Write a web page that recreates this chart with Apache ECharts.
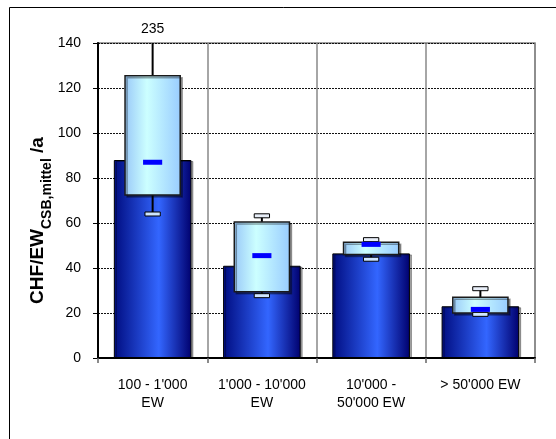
<!DOCTYPE html>
<html>
<head>
<meta charset="utf-8">
<script src="https://cdn.jsdelivr.net/npm/echarts@6/dist/echarts.min.js"></script>
<style>
html,body{margin:0;padding:0;background:#fff;}
#chart{width:556px;height:439px;}
</style>
</head>
<body>
<div id="chart"></div>
<script>
// ---- data ----
var categories = ["100 - 1'000\nEW", "1'000 - 10'000\nEW", "10'000 -\n50'000 EW", "> 50'000 EW"];
var barValues = [88, 41, 46.5, 23];
var boxLow = [72.5, 29.5, 46, 20];
var boxHigh = [125.5, 60.5, 51.5, 27];
var whiskerLow = [64, 27.7, 43.9, 19.4];
var whiskerHigh = [235, 63.2, 52.6, 30.8];
var meanValues = [87, 45.5, 50.5, 21.6];
var yTicks = [0, 20, 40, 60, 80, 100, 120, 140];

var Y_MIN = yTicks[0], Y_MAX = yTicks[yTicks.length - 1], Y_STEP = yTicks[1] - yTicks[0];
var FONT = "'Liberation Sans', Arial, sans-serif";

var boxData = categories.map(function (c, i) {
  return [i, boxLow[i], boxHigh[i], whiskerLow[i], whiskerHigh[i], meanValues[i]];
});

var chart = echarts.init(document.getElementById('chart'), null, {renderer: 'canvas'});

function renderBox(params, api) {
  var i = api.value(0);
  var x = api.coord([i, 0])[0];
  var band = api.size([1, 0])[0];
  var bw = band * 0.505, cw = band * 0.14, mw = band * 0.175;
  var lo = api.value(1), hi = api.value(2), wl = api.value(3), wh = api.value(4), mean = api.value(5);
  var clipped = wh > Y_MAX;
  var yTop = api.coord([i, hi])[1];
  var yBot = api.coord([i, lo])[1];
  var yHi = api.coord([i, Math.min(wh, Y_MAX)])[1];
  var yLo = api.coord([i, wl])[1];
  var yMean = api.coord([i, mean])[1];
  var children = [];
  children.push({type: 'line', shape: {x1: x, y1: yTop, x2: x, y2: yHi}, style: {stroke: '#000', lineWidth: 2}});
  children.push({type: 'line', shape: {x1: x, y1: yBot, x2: x, y2: yLo}, style: {stroke: '#000', lineWidth: 2}});
  children.push({
    type: 'rect',
    shape: {x: x - bw / 2, y: yTop, width: bw, height: yBot - yTop},
    style: {
      fill: new echarts.graphic.LinearGradient(0, 0, 1, 0, [
        {offset: 0, color: '#99c8f8'},
        {offset: 0.4, color: '#ccffff'},
        {offset: 1, color: '#99ccff'}
      ]),
      stroke: '#1a1a1a', lineWidth: 1.5,
      shadowColor: 'rgba(0,0,0,0.35)', shadowOffsetX: 2, shadowOffsetY: 2
    }
  });
  if (!clipped) {
    children.push({type: 'rect', shape: {x: x - cw / 2, y: yHi - 2, width: cw, height: 4},
      style: {fill: '#e8eef8', stroke: '#000', lineWidth: 1}});
  }
  children.push({type: 'rect', shape: {x: x - cw / 2, y: yLo - 2, width: cw, height: 4},
    style: {fill: '#cfe6ff', stroke: '#000', lineWidth: 1}});
  children.push({type: 'rect', shape: {x: x - mw / 2, y: yMean - 2.5, width: mw, height: 5},
    style: {fill: '#0000ff'}});
  if (clipped) {
    children.push({type: 'text', style: {x: x, y: yHi - 7, text: String(wh), textAlign: 'center',
      textVerticalAlign: 'bottom', font: '14px ' + FONT, fill: '#000'}});
  }
  return {type: 'group', children: children};
}

var option = {
  animation: false,
  backgroundColor: '#fff',
  textStyle: {fontFamily: FONT},
  grid: {left: 98, right: 21, top: 43, bottom: 81, show: true, borderColor: '#808080', borderWidth: 1.5},
  xAxis: {
    type: 'category',
    data: categories,
    axisLine: {lineStyle: {color: '#000', width: 2}},
    axisTick: {show: true, length: 5, lineStyle: {color: '#666', width: 1.5}},
    splitLine: {show: true, lineStyle: {color: '#888', width: 1.5}},
    axisLabel: {color: '#000', fontSize: 14, fontFamily: FONT, margin: 18, lineHeight: 18, interval: 0}
  },
  yAxis: {
    type: 'value',
    min: Y_MIN, max: Y_MAX, interval: Y_STEP,
    axisLine: {show: true, lineStyle: {color: '#000', width: 2}},
    axisTick: {show: true, length: 5, lineStyle: {color: '#000', width: 1}},
    axisLabel: {color: '#000', fontSize: 14, fontFamily: FONT, margin: 17},
    splitLine: {show: true, lineStyle: {color: '#111', width: 1, type: [2, 1]}},
    name: '{a|CHF/EW}{b|CSB,mittel}{c| /a}',
    nameLocation: 'middle',
    nameRotate: 90,
    nameGap: 44,
    nameMoveOverlap: false,
    nameTextStyle: {
      padding: [0, 40, 0, 0],
      rich: {
        a: {fontSize: 19, fontWeight: 'bold', fontFamily: FONT, color: '#000', verticalAlign: 'bottom', padding: [0, 0, 7, 0]},
        b: {fontSize: 14, fontWeight: 'bold', fontFamily: FONT, color: '#000', verticalAlign: 'bottom'},
        c: {fontSize: 19, fontWeight: 'bold', fontFamily: FONT, color: '#000', verticalAlign: 'bottom', padding: [0, 0, 7, 0]}
      }
    }
  },
  graphic: [{
    type: 'rect', left: 7, top: 5, z: 100, silent: true,
    shape: {width: 620, height: 520},
    style: {fill: 'none', stroke: '#000', lineWidth: 1}
  }],
  series: [
    {
      type: 'bar',
      data: barValues,
      barWidth: '71%',
      z: 2,
      itemStyle: {
        color: new echarts.graphic.LinearGradient(0, 0, 1, 0, [
          {offset: 0, color: '#000c80'},
          {offset: 0.58, color: '#3366ff'},
          {offset: 1, color: '#00006e'}
        ]),
        borderColor: '#000', borderWidth: 1,
        shadowColor: 'rgba(0,0,0,0.35)', shadowOffsetX: 2, shadowOffsetY: 1
      }
    },
    {
      type: 'custom',
      z: 3,
      clip: false,
      renderItem: renderBox,
      encode: {x: 0, y: [1, 2, 3, 4, 5]},
      data: boxData
    }
  ]
};
chart.setOption(option);
</script>
</body>
</html>
